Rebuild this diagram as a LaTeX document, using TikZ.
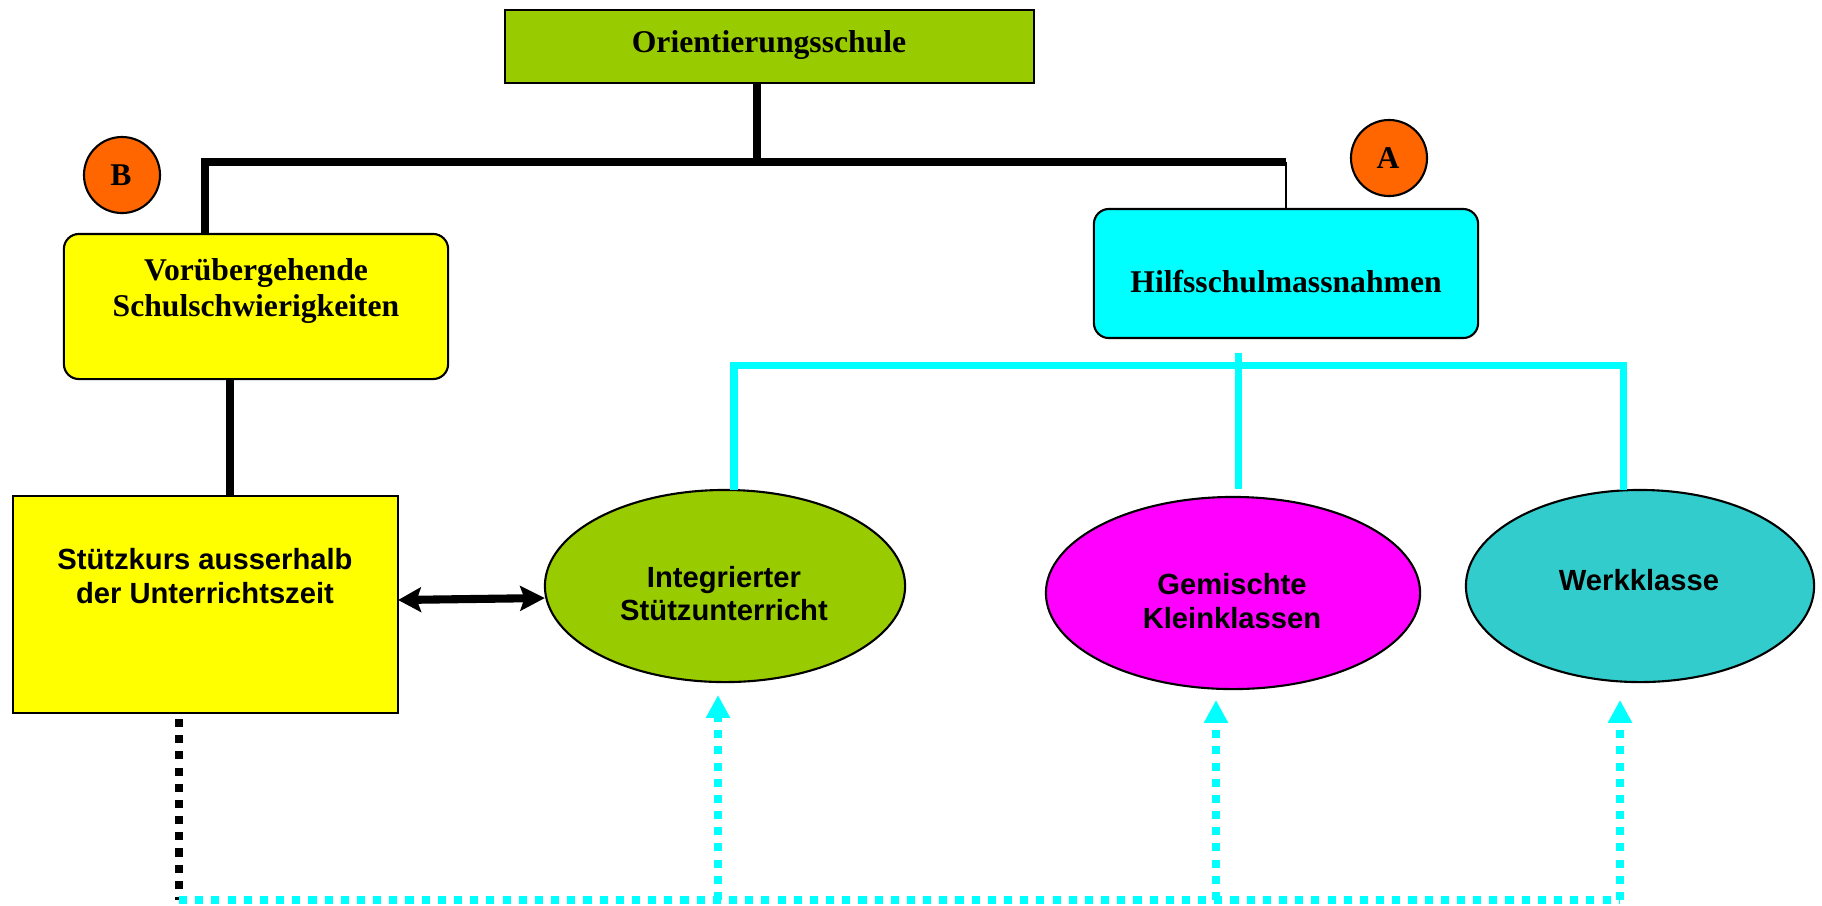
\documentclass[tikz,border=0pt]{standalone}
\usepackage{fontspec}
\setmainfont{Liberation Serif}
\setsansfont{Liberation Sans}
\usetikzlibrary{arrows.meta,shapes.geometric}
\definecolor{cgreen}{HTML}{99CC00}
\definecolor{cyellow}{HTML}{FFFF00}
\definecolor{ccyan}{HTML}{00FFFF}
\definecolor{corange}{HTML}{FF6600}
\definecolor{cmagenta}{HTML}{FF00FF}
\definecolor{cteal}{HTML}{33CCCC}
\newcommand\sertxt{\fontsize{9}{10.5}\selectfont\rmfamily\bfseries}
\newcommand\santxt{\fontsize{8.3}{9.7}\selectfont\sffamily\bfseries}
\newcommand\twoln[3]{\vtop{\baselineskip=#1\relax\halign{\hfil##\hfil\cr#2\cr#3\cr}}}
\begin{document}
\begin{tikzpicture}[x=0.01cm,y=-0.01cm,
  shapebox/.style={draw=black,line width=0.6pt,inner sep=0pt,outer sep=0pt},
  sqbox/.style={shapebox,rectangle},
  rbox/.style={shapebox,rectangle,rounded corners=0.15cm},
  oval/.style={shapebox,ellipse,minimum height=1.92cm},
  badge/.style={shapebox,circle,fill=corange,minimum size=0.76cm},
  sertext/.style={font=\sertxt,anchor=base,inner sep=0pt},
  santext/.style={font=\santxt,anchor=base,inner sep=0pt},
  trunk/.style={line width=2.2pt,black},
  thinlink/.style={line width=0.4pt,black},
  cyanlink/.style={line width=2pt,ccyan},
  bdot/.style={line width=2.3pt,black,dash pattern=on 2.3pt off 2.3pt},
  cdot/.style={line width=2.3pt,ccyan,dash pattern=on 2.3pt off 2.3pt},
  cup/.style={cdot,-{Triangle[length=6.5pt,width=6.5pt]}},
  dbl/.style={line width=2.3pt,black,{Stealth[length=6.5pt,width=7pt,inset=1.2pt]}-{Stealth[length=7pt,width=7pt,inset=1.2pt]}}
]
\useasboundingbox (0,0) rectangle (1822,905);

% shapes
\node[sqbox,fill=cgreen,minimum width=5.29cm,minimum height=0.73cm] (orient) at (769.5,46.5) {};
\node[rbox,fill=cyellow,minimum width=3.84cm,minimum height=1.45cm] (vor) at (256,306.5) {};
\node[rbox,fill=ccyan,minimum width=3.84cm,minimum height=1.29cm] (hilfs) at (1286,273.5) {};
\node[sqbox,fill=cyellow,minimum width=3.85cm,minimum height=2.17cm] (stutz) at (205.5,604.5) {};
\node[oval,fill=cgreen,minimum width=3.60cm] (integ) at (725,586) {};
\node[oval,fill=cmagenta,minimum width=3.74cm] (gem) at (1233,593) {};
\node[oval,fill=cteal,minimum width=3.48cm] (werk) at (1640,586) {};
\node[badge] (bb) at (122,175) {};
\node[badge] (ba) at (1389,158) {};

% texts
\node[sertext] (orientT) at (769,52) {Orientierungsschule};
\node[sertext] (bT) at (121,185.5) {B};
\node[sertext] (aT) at (1388,168.5) {A};
\node[sertext] (vorT) at (256,280) {\twoln{10.5pt}{Vorübergehende}{Schulschwierigkeiten}};
\node[sertext] (hilfsT) at (1286,292) {Hilfsschulmassnahmen};
\node[santext] (stutzT) at (205,569) {\twoln{9.7pt}{Stützkurs ausserhalb}{der Unterrichtszeit}};
\node[santext] (integT) at (724,587) {\twoln{9.4pt}{Integrierter}{Stützunterricht}};
\node[santext] (gemT) at (1232,594) {\twoln{9.7pt}{Gemischte}{Kleinklassen}};
\node[santext] (werkT) at (1639,590) {Werkklasse};

% black tree
\coordinate (barL) at (205,162);
\coordinate (barR) at (1286,162);
\coordinate (barM) at (757,162);
\coordinate (vx) at (230,0);
\draw[trunk] (orient.south -| barM) -- (barM);
\draw[trunk] (vor.north -| barL) -- (barL) -- (barR);
\draw[thinlink] (barR) -- (hilfs.north);
\draw[trunk] (vor.south -| vx) -- (stutz.north -| vx);

% cyan tree
\coordinate (cL) at (734,365);
\coordinate (cR) at (1623,365);
\coordinate (cMtop) at (1238,353);
\coordinate (cMbot) at (1238,489);
\draw[cyanlink] (integ.north -| cL) -- (cL) -- (cR) -- (werk.north -| cR);
\draw[cyanlink] (cMtop) -- (cMbot);

% double arrow
\draw[dbl] ([yshift=0.045cm]stutz.east) -- ([yshift=-0.12cm]integ.west);

% dotted feedback lines
\coordinate (bt) at (179,719);
\coordinate (bl) at (179,900);
\coordinate (j1) at (718,900);
\coordinate (j2) at (1216,900);
\coordinate (j3) at (1620,900);
\coordinate (t1) at (718,695);
\coordinate (t2) at (1216,700);
\coordinate (t3) at (1620,700);
\draw[bdot] (bt) -- (bl);
\draw[cdot] (bl) -- (j3);
\draw[cup] (j1) -- (t1);
\draw[cup] (j2) -- (t2);
\draw[cup] (j3) -- (t3);
\end{tikzpicture}
\end{document}
